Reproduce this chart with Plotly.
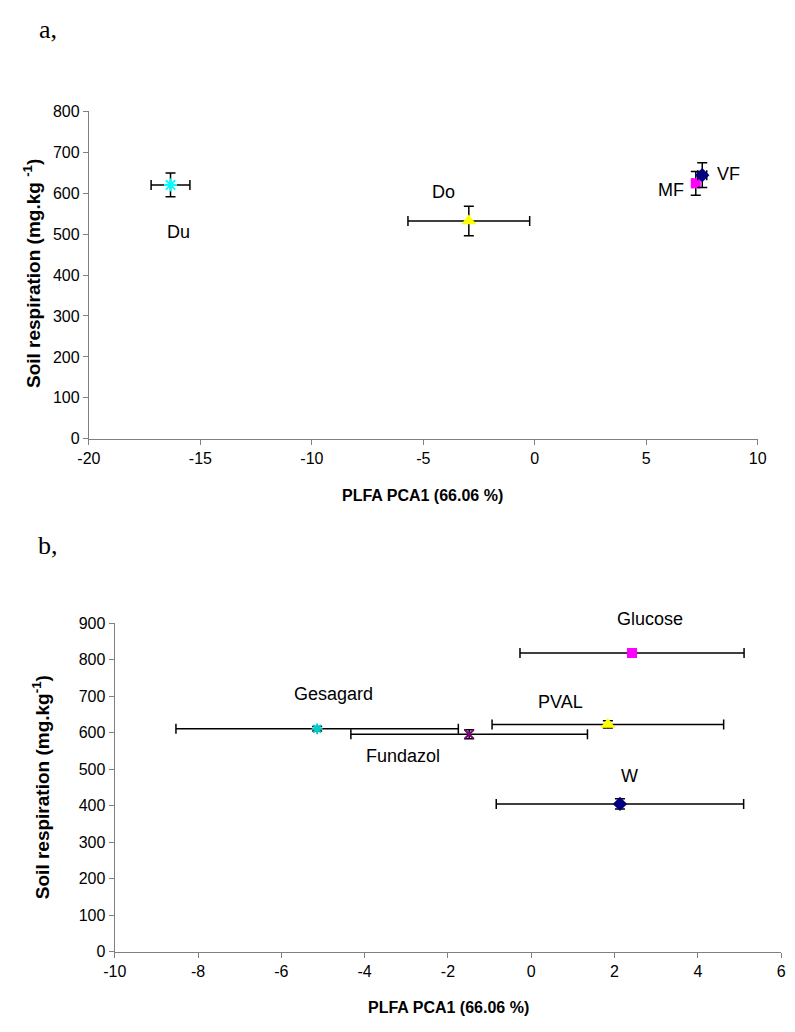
import plotly.graph_objects as go

# ---- Panel a data ----
a_labels = ["Du", "Do", "MF", "VF"]
a_x = [-16.34, -2.96, 7.22, 7.51]
a_x_err = [0.87, 2.73, 0.15, 0.20]
a_y = [620, 532, 624, 644]
a_y_err = [29, 36, 29, 30]

# ---- Panel b data ----
b_labels = ["Glucose", "PVAL", "Gesagard", "Fundazol", "W"]
b_x = [2.42, 1.84, -5.14, -1.49, 2.13]
b_x_err = [2.69, 2.78, 3.39, 2.84, 2.97]
b_y = [819, 623, 611, 596, 405]
b_y_err = [8, 10, 6, 12, 14]

a_xticks = [-20, -15, -10, -5, 0, 5, 10]
a_yticks = [0, 100, 200, 300, 400, 500, 600, 700, 800]
b_xticks = [-10, -8, -6, -4, -2, 0, 2, 4, 6]
b_yticks = [0, 100, 200, 300, 400, 500, 600, 700, 800, 900]

# styles
a_style = {
    "Du": dict(symbol="asterisk-open", color="#00FFFF", size=11),
    "Do": dict(symbol="triangle-up", color="#FFFF00", size=13),
    "MF": dict(symbol="square", color="#FF00FF", size=10),
    "VF": dict(symbol="diamond", color="#000080", size=11),
}
a_offsets = {"Du": (8, -47), "Do": (-25, 29), "MF": (-25, -7), "VF": (26, 1)}

b_style = {
    "Glucose": dict(symbol="square", color="#FF00FF", size=10),
    "PVAL": dict(symbol="triangle-up", color="#FFFF00", size=13),
    "Gesagard": dict(symbol="asterisk-open", color="#00CCCC", size=9),
    "Fundazol": dict(symbol="x-thin-open", color="#800080", size=9),
    "W": dict(symbol="diamond", color="#000080", size=11),
}
b_offsets = {"Glucose": (18, 34), "PVAL": (-47, 22), "Gesagard": (16, 35),
             "Fundazol": (-66, -22), "W": (10, 28)}

fig = go.Figure()

def add_point(x, y, xe, ye, st, xa, ya):
    open_sym = st["symbol"].endswith("open")
    fig.add_trace(go.Scatter(
        x=[x], y=[y], mode="markers", xaxis=xa, yaxis=ya, showlegend=False,
        error_x=dict(type="data", array=[xe], color="black", thickness=1.5, width=5),
        error_y=dict(type="data", array=[ye], color="black", thickness=1.5, width=5),
        marker=dict(symbol=st["symbol"], size=st["size"], color=st["color"],
                    line=dict(color=st["color"], width=2 if open_sym else 0)),
    ))

for i, lab in enumerate(a_labels):
    add_point(a_x[i], a_y[i], a_x_err[i], a_y_err[i], a_style[lab], "x", "y")
for i, lab in enumerate(b_labels):
    add_point(b_x[i], b_y[i], b_x_err[i], b_y_err[i], b_style[lab], "x2", "y2")

label_font = dict(size=18, color="black", family="Liberation Sans")
ann = []
for i, lab in enumerate(a_labels):
    dx, dy = a_offsets[lab]
    ann.append(dict(x=a_x[i], y=a_y[i], xref="x", yref="y", text=lab, showarrow=False,
                    xanchor="center", yanchor="middle",
                    xshift=dx, yshift=dy, font=label_font))
for i, lab in enumerate(b_labels):
    dx, dy = b_offsets[lab]
    ann.append(dict(x=b_x[i], y=b_y[i], xref="x2", yref="y2", text=lab, showarrow=False,
                    xanchor="center", yanchor="middle",
                    xshift=dx, yshift=dy, font=label_font))

def P(text, xpx, ypx, angle=0, font=None):
    return dict(x=xpx / 795, y=1 - ypx / 1032, xref="paper", yref="paper", text=text,
                showarrow=False, xanchor="center", yanchor="middle", textangle=angle,
                font=font)

serif = dict(family="Liberation Serif", size=26, color="black")
xtitle_font = dict(size=16, color="black", family="Liberation Sans")
ytitle_font = dict(size=19, color="black", family="Liberation Sans")

ann.append(P("a,", 37, 22, font=serif))
ann.append(P("b,", 37, 546, font=serif))
ann.append(P("<b>PLFA PCA1 (66.06 %)</b>", 422, 496, font=xtitle_font))
ann.append(P("<b>PLFA PCA1 (66.06 %)</b>", 448, 1016, font=xtitle_font))
ann.append(P("<b>Soil respiration (mg.kg <sup>-1</sup>)</b>", 20, 270, angle=-90, font=ytitle_font))
ann.append(P("<b>Soil respiration (mg.kg<sup>-1</sup>)</b>", 30, 792, angle=-90, font=ytitle_font))

axis_common = dict(showgrid=False, zeroline=False, showline=True, linecolor="#808080",
                   linewidth=1.2, ticks="outside", tickcolor="#808080", ticklen=5,
                   tickfont=dict(size=16, color="black"))

def tt(vals):
    return [str(v) for v in vals]

fig.update_layout(
    width=795, height=1032,
    margin=dict(l=0, r=0, t=0, b=0),
    paper_bgcolor="white", plot_bgcolor="white",
    font=dict(family="Liberation Sans", color="black"),
    xaxis=dict(domain=[79 / 795, 766 / 795], range=[-20, 10], tickvals=a_xticks,
               ticktext=tt(a_xticks), anchor="y", **axis_common),
    yaxis=dict(domain=[1 - 438 / 1032, 1 - 105 / 1032], range=[0, 800], tickvals=a_yticks,
               ticktext=tt(a_yticks), anchor="x", **axis_common),
    xaxis2=dict(domain=[105.5 / 795, 790 / 795], range=[-10, 6], tickvals=b_xticks,
                ticktext=tt(b_xticks), anchor="y2", **axis_common),
    yaxis2=dict(domain=[1 - 959.4 / 1032, 1 - 625.7 / 1032], range=[0, 900], tickvals=b_yticks,
                ticktext=tt(b_yticks), anchor="x2", **axis_common),
    annotations=ann,
)

fig.write_html("out.html")
